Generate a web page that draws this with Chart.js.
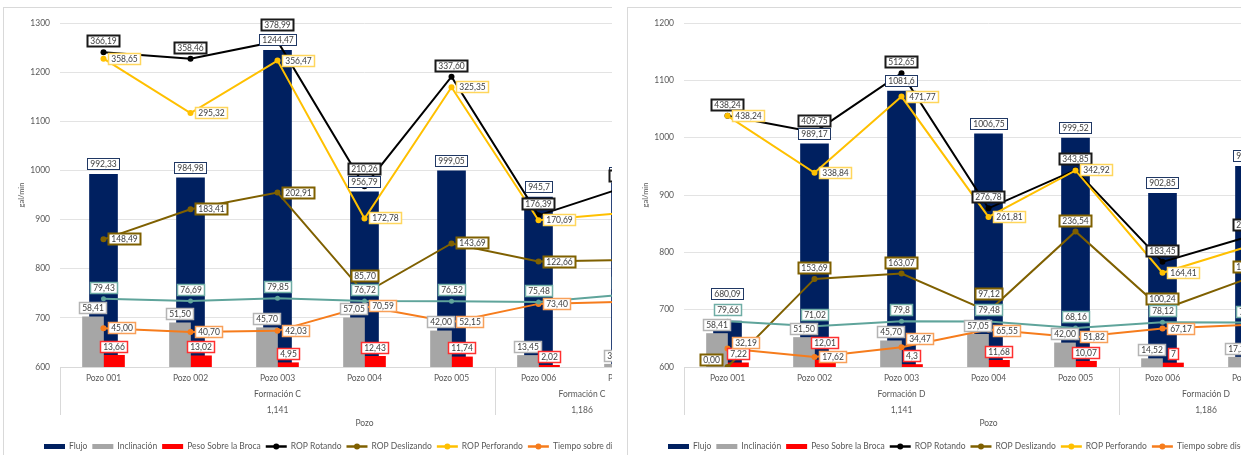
<!DOCTYPE html>
<html lang="es">
<head>
<meta charset="utf-8">
<title>Flujo y ROP por pozo</title>
<script src="https://cdn.jsdelivr.net/npm/chart.js@4.4.1/dist/chart.umd.min.js"></script>
<style>
  html, body { margin: 0; padding: 0; background: #fff; width: 1241px; height: 455px; overflow: hidden; }
  .recorte { position: absolute; top: 0; height: 455px; overflow: hidden; }
  .marco { position: absolute; top: 7px; width: 800px; height: 470px; border: 1px solid #d9d9d9; background: #fff; }
  canvas { display: block; }
</style>
</head>
<body>
<div class="recorte" style="left:0;width:612px">
  <div class="marco" style="left:3px"><canvas id="graficoC" width="800" height="452"></canvas></div>
</div>
<div class="recorte" style="left:612px;width:629px">
  <div class="marco" style="left:15px"><canvas id="graficoD" width="800" height="452"></canvas></div>
</div>
<script>
// ---------- Datos ----------
const pozos = ['Pozo 001', 'Pozo 002', 'Pozo 003', 'Pozo 004', 'Pozo 005', 'Pozo 006', 'Pozo 007'];
const nombresSeries = ['Flujo', 'Inclinación', 'Peso Sobre la Broca', 'ROP Rotando', 'ROP Deslizando',
  'ROP Perforando', 'Tiempo sobre diseño', 'Tiempo Rotando'];

// Formación C
const formacionesC = ['Formación C', 'Formación C'];
const codigosC = ['1,141', '1,186'];
const pozosPorGrupoC = [5, 2];
const flujoC = [992.33, 984.98, 1244.47, 956.79, 999.05, 945.7, 975];
const inclinacionC = [58.41, 51.50, 45.70, 57.05, 42.00, 13.45, 3.25];
const pesoC = [13.66, 13.02, 4.95, 12.43, 11.74, 2.02, 2.50];
const ropRotandoC = [366.19, 358.46, 378.99, 210.26, 337.60, 176.39, 209.5];
const ropDeslizandoC = [148.49, 183.41, 202.91, 85.70, 143.69, 122.66, 124.5];
const ropPerforandoC = [358.65, 295.32, 356.47, 172.78, 325.35, 170.69, 179.5];
const tiempoDisenoC = [45.00, 40.70, 42.03, 70.59, 52.15, 73.40, 75.8];
const tiempoRotandoC = [79.43, 76.69, 79.85, 76.72, 76.52, 75.48, 84.4];

// Formación D
const formacionesD = ['Formación D', 'Formación D'];
const codigosD = ['1,141', '1,186'];
const pozosPorGrupoD = [5, 2];
const flujoD = [680.09, 989.17, 1081.6, 1006.75, 999.52, 902.85, 950];
const inclinacionD = [58.41, 51.50, 45.70, 57.05, 42.00, 14.52, 17.2];
const pesoD = [7.22, 12.01, 4.3, 11.68, 10.07, 7, 5];
const ropRotandoD = [438.24, 409.75, 512.65, 276.78, 343.85, 183.45, 228];
const ropDeslizandoD = [0.00, 153.69, 163.07, 97.12, 236.54, 100.24, 155.5];
const ropPerforandoD = [438.24, 338.84, 471.77, 261.81, 342.92, 164.41, 211];
const tiempoDisenoD = [32.19, 17.62, 34.47, 65.55, 51.82, 67.17, 73.9];
const tiempoRotandoD = [79.66, 71.02, 79.8, 79.48, 68.16, 78.12, 77.5];

// Decimales mostrados en las etiquetas (por defecto 2)
const decimalesC = { flujo: { 5: 1 } };
const decimalesD = { flujo: { 2: 1 }, tiempoRot: { 2: 1 }, peso: { 2: 1, 5: 0 } };

// ---------- Estilos ----------
const FUENTE = 'Lato, "Liberation Sans", sans-serif';
const TAM = 8.5;
const ALTO_LIENZO = 452;
const BASE_AREA = 359;     // borde inferior del área de trazado
const ANCHO_EJE_Y = 56;
const RELLENO_DER = 135;

const estilos = {
  flujo:      { color: '#002060', etq: { pos: 'top', d: 10,  borde: '#203864', lw: 1 } },
  incl:       { color: '#a6a6a6', etq: { pos: 'top', d: 8.5, borde: '#b4b4b4', lw: 1.5 } },
  peso:       { color: '#ff0000', etq: { pos: 'top', d: 8.5, borde: '#ff3030', lw: 1.5 } },
  rotando:    { color: '#000000', etq: { pos: 'top', d: 11,  borde: '#1a1a1a', lw: 2 } },
  deslizando: { color: '#7f6000', etq: { pos: 'right', gap: 4.5, borde: '#7f6000', lw: 2 } },
  perforando: { color: '#ffc000', etq: { pos: 'right', gap: 4.5, borde: '#ffd65c', lw: 1.5 } },
  tiempoDis:  { color: '#f67c1c', etq: { pos: 'right', gap: 4.5, borde: '#f8a05a', lw: 1.5 } },
  tiempoRot:  { color: '#5fa49b', etq: { pos: 'top', d: 11,  borde: '#6fada5', lw: 1.5 } }
};

// Ajustes de posición de etiquetas concretas
const ajustesC = {
  rotando: { 2: { d: 16 }, 3: { d: 17.5 } },
  deslizando: { 3: { pos: 'top', d: 17.5 } }
};
const ajustesD = {
  flujo: { 0: { d: 27 } },
  peso: { 1: { d: 17 } },
  deslizando: { '*': { pos: 'top', d: 10.5 }, 0: { pos: 'left', gap: 5, dy: -7 }, 3: { pos: 'top', d: 17 } },
  tiempoDis: { 0: { dy: -6 }, 2: { dy: -8 }, 3: { dy: 2 } }
};

function formatear(v, dec) {
  return v.toFixed(dec).replace('.', ',');
}

// ---------- Etiquetas de datos ----------
const etiquetasDatos = {
  id: 'etiquetasDatos',
  afterDatasetsDraw(chart) {
    const ctx = chart.ctx;
    ctx.save();
    ctx.font = TAM + 'px ' + FUENTE;
    ctx.textAlign = 'center';
    ctx.textBaseline = 'middle';
    chart.data.datasets.forEach((ds, di) => {
      const meta = chart.getDatasetMeta(di);
      const ajustes = ds.ajustes || {};
      meta.data.forEach((el, i) => {
        const v = ds.data[i];
        const dec = (ds.decimales && ds.decimales[i] !== undefined) ? ds.decimales[i] : 2;
        const txt = formatear(v, dec);
        const w = Math.round(ctx.measureText(txt).width + 6);
        const h = 12;
        const o = Object.assign({}, ds.etq, ajustes['*'] || {}, ajustes[i] || {});
        let cx, cy;
        if (o.pos === 'top') {
          cx = el.x + (o.dx || 0);
          cy = el.y - o.d;
        } else if (o.pos === 'right') {
          cx = el.x + o.gap + w / 2;
          cy = el.y + (o.dy || 0);
        } else {
          cx = el.x - o.gap - w / 2;
          cy = el.y + (o.dy || 0);
        }
        const x0 = Math.round(cx - w / 2), y0 = Math.round(cy - h / 2);
        ctx.fillStyle = '#ffffff';
        ctx.fillRect(x0, y0, w, h);
        ctx.strokeStyle = o.borde;
        ctx.lineWidth = o.lw;
        ctx.strokeRect(x0 + 0.5, y0 + 0.5, w - 1, h - 1);
        ctx.fillStyle = '#404040';
        ctx.fillText(txt, x0 + w / 2, y0 + h / 2 + 0.5);
      });
    });
    ctx.restore();
  }
};

// ---------- Eje de categorías en niveles, título y leyenda ----------
const ejeInferior = {
  id: 'ejeInferior',
  afterDraw(chart, args, opts) {
    const { ctx, chartArea: a } = chart;
    const x = chart.scales.x;
    ctx.save();
    // límites de grupos
    const limites = [a.left];
    let k = 0;
    opts.tamanos.forEach(n => {
      k += n;
      limites.push(k >= pozos.length ? a.right : (x.getPixelForValue(k - 1) + x.getPixelForValue(k)) / 2);
    });
    ctx.strokeStyle = '#d9d9d9';
    ctx.lineWidth = 1;
    limites.forEach(px => {
      const xx = Math.round(px) + 0.5;
      ctx.beginPath();
      ctx.moveTo(xx, a.bottom);
      ctx.lineTo(xx, a.bottom + 48);
      ctx.stroke();
    });
    ctx.font = TAM + 'px ' + FUENTE;
    ctx.fillStyle = '#595959';
    ctx.textAlign = 'center';
    ctx.textBaseline = 'middle';
    opts.nombres.forEach((nom, g) => {
      const cx = (limites[g] + limites[g + 1]) / 2;
      ctx.fillText(nom, cx, a.bottom + 27);
      ctx.fillText(opts.codigos[g], cx, a.bottom + 43);
    });
    ctx.fillText('Pozo', (a.left + a.right) / 2, a.bottom + 56.5);

    // leyenda
    const yl = a.bottom + 79.5;
    let lx = 40;
    ctx.textAlign = 'left';
    chart.data.datasets.forEach(ds => {
      if (ds.type === 'bar') {
        ctx.fillStyle = ds.backgroundColor;
        ctx.fillRect(lx, yl - 2.5, 21, 5);
      } else {
        ctx.strokeStyle = ds.borderColor;
        ctx.lineWidth = 2.5;
        ctx.beginPath();
        ctx.moveTo(lx, yl);
        ctx.lineTo(lx + 21, yl);
        ctx.stroke();
        ctx.fillStyle = ds.borderColor;
        ctx.beginPath();
        ctx.arc(lx + 10.5, yl, 3, 0, Math.PI * 2);
        ctx.fill();
      }
      lx += 25;
      ctx.fillStyle = '#595959';
      ctx.fillText(ds.label, lx, yl);
      lx += ctx.measureText(ds.label).width + 5;
    });
    ctx.restore();
  }
};

function serieLinea(nombre, datos, clave, orden, ajustes, decimales, radio) {
  const e = estilos[clave];
  return {
    type: 'line', label: nombre, data: datos, yAxisID: 'y2', order: orden,
    borderColor: e.color, backgroundColor: e.color, borderWidth: 2,
    pointRadius: radio, pointBackgroundColor: e.color, pointBorderWidth: 0,
    tension: 0, fill: false, etq: e.etq, ajustes: ajustes[clave], decimales: decimales[clave]
  };
}

function crearGrafico(id, s) {
  const datasets = [
    { type: 'bar', label: nombresSeries[0], data: s.flujo, yAxisID: 'y', order: 20, grouped: false,
      barThickness: 28, backgroundColor: estilos.flujo.color, etq: estilos.flujo.etq,
      ajustes: s.ajustes.flujo, decimales: s.decimales.flujo },
    { type: 'bar', label: nombresSeries[1], data: s.incl, yAxisID: 'y2', order: 18,
      barThickness: 21, backgroundColor: estilos.incl.color, etq: estilos.incl.etq,
      ajustes: s.ajustes.incl, decimales: s.decimales.incl },
    { type: 'bar', label: nombresSeries[2], data: s.peso, yAxisID: 'y2', order: 19,
      barThickness: 21, backgroundColor: estilos.peso.color, etq: estilos.peso.etq,
      ajustes: s.ajustes.peso, decimales: s.decimales.peso },
    serieLinea(nombresSeries[3], s.rot, 'rotando', 7, s.ajustes, s.decimales, 3),
    serieLinea(nombresSeries[4], s.desl, 'deslizando', 6, s.ajustes, s.decimales, 3),
    serieLinea(nombresSeries[5], s.perf, 'perforando', 5, s.ajustes, s.decimales, 3),
    serieLinea(nombresSeries[6], s.tDis, 'tiempoDis', 4, s.ajustes, s.decimales, 3),
    serieLinea(nombresSeries[7], s.tRot, 'tiempoRot', 3, s.ajustes, s.decimales, 2.5)
  ];

  return new Chart(document.getElementById(id), {
    type: 'bar',
    data: { labels: pozos, datasets },
    plugins: [etiquetasDatos, ejeInferior],
    options: {
      responsive: false,
      animation: false,
      events: [],
      layout: { padding: { top: 9, right: RELLENO_DER, left: 0, bottom: 0 } },
      plugins: {
        legend: { display: false },
        tooltip: { enabled: false },
        ejeInferior: { nombres: s.formaciones, codigos: s.codigos, tamanos: s.tamanos }
      },
      scales: {
        x: {
          type: 'category', offset: true,
          grid: { display: false, drawTicks: false },
          border: { display: true, color: '#d9d9d9', width: 1 },
          ticks: { font: { family: FUENTE, size: TAM }, color: '#595959', padding: 6, maxRotation: 0, autoSkip: false },
          afterFit(sc) { sc.height = ALTO_LIENZO - BASE_AREA; }
        },
        y: {
          position: 'left', min: 600, max: s.maxY,
          ticks: { stepSize: 100, padding: 10, font: { family: FUENTE, size: TAM }, color: '#595959',
                   callback: v => String(v) },
          grid: { color: '#e3e3e3', drawTicks: false },
          border: { display: false },
          title: { display: true, text: 'gal/min', color: '#595959',
                   font: { family: FUENTE, size: 7.5 }, padding: { top: 13, bottom: 0 } },
          afterFit(sc) { sc.width = ANCHO_EJE_Y; }
        },
        y2: { display: false, min: 0, max: s.maxY2 }
      }
    }
  });
}

crearGrafico('graficoC', {
  flujo: flujoC, incl: inclinacionC, peso: pesoC, rot: ropRotandoC, desl: ropDeslizandoC,
  perf: ropPerforandoC, tDis: tiempoDisenoC, tRot: tiempoRotandoC,
  formaciones: formacionesC, codigos: codigosC, tamanos: pozosPorGrupoC,
  maxY: 1300, maxY2: 400, ajustes: ajustesC, decimales: decimalesC
});

crearGrafico('graficoD', {
  flujo: flujoD, incl: inclinacionD, peso: pesoD, rot: ropRotandoD, desl: ropDeslizandoD,
  perf: ropPerforandoD, tDis: tiempoDisenoD, tRot: tiempoRotandoD,
  formaciones: formacionesD, codigos: codigosD, tamanos: pozosPorGrupoD,
  maxY: 1200, maxY2: 600, ajustes: ajustesD, decimales: decimalesD
});
</script>
</body>
</html>
